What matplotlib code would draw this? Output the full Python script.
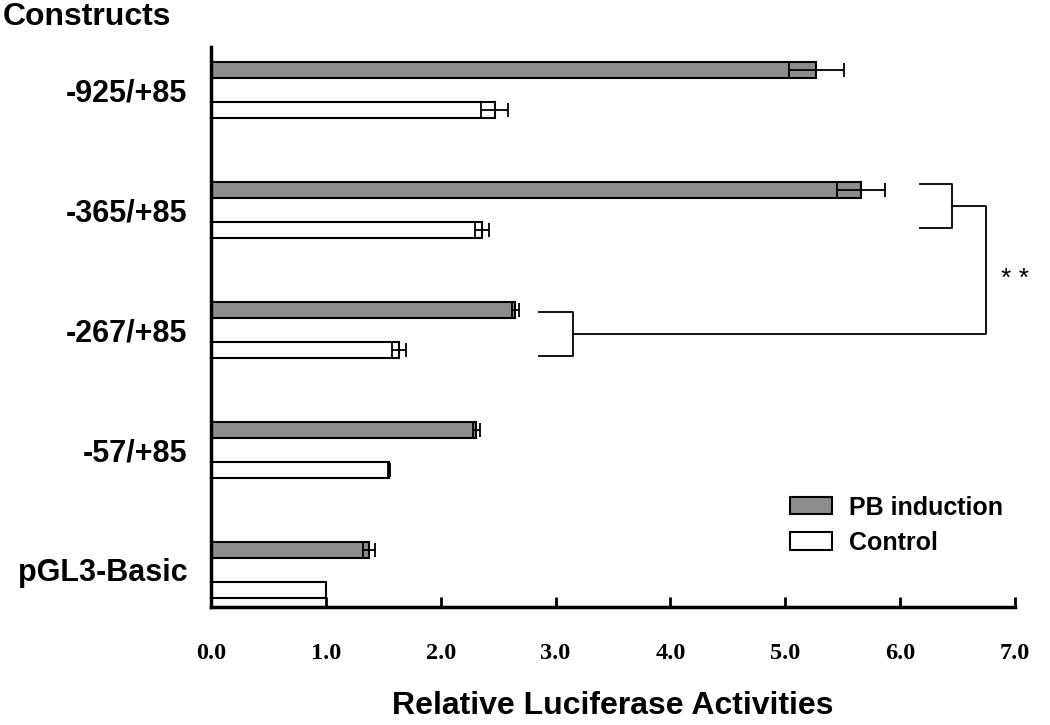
import numpy as np
import matplotlib
matplotlib.use('Agg')
import matplotlib.pyplot as plt

constructs = ['-925/+85', '-365/+85', '-267/+85', '-57/+85', 'pGL3-Basic']
pb_vals = [5.27, 5.66, 2.65, 2.31, 1.375]
pb_err = [0.24, 0.21, 0.03, 0.03, 0.05]
ctrl_vals = [2.47, 2.36, 1.64, 1.55, 1.0]
ctrl_err = [0.12, 0.06, 0.06, 0.01, 0.0]
xticks = [0, 1, 2, 3, 4, 5, 6, 7]

sans = 'Liberation Sans'
serif = 'Liberation Serif'

fig = plt.figure(figsize=(10.5, 7.25), dpi=100)
ax = fig.add_axes([211/1050, 1-607/725, 804/1050, 560/725])

base = np.arange(len(constructs))[::-1] * 3.0
y_pb = base + 1.425
y_ctrl = base + 0.425
h = 0.4

ekw = dict(elinewidth=1.3, capthick=1.3, ecolor='black')
b1 = ax.barh(y_pb, pb_vals, height=h, color='#8c8c8c', edgecolor='black',
             linewidth=1.5, xerr=pb_err, capsize=5, error_kw=ekw, label='PB induction')
b2 = ax.barh(y_ctrl, ctrl_vals, height=h, color='white', edgecolor='black',
             linewidth=1.5, xerr=ctrl_err, capsize=5, error_kw=ekw, label='Control')

ax.set_xlim(0, 7)
ax.set_ylim(0, 14)
for s in ['top', 'right']:
    ax.spines[s].set_visible(False)
for s in ['left', 'bottom']:
    ax.spines[s].set_linewidth(2.5)

ax.set_xticks(xticks)
ax.set_xticklabels(['%.1f' % t for t in xticks], fontfamily=serif,
                   fontweight='bold', fontsize=17.5)
ax.tick_params(axis='x', direction='in', length=7, width=2, pad=26)
ax.set_yticks((y_pb + y_ctrl) / 2)
ax.set_yticklabels(constructs, fontfamily=sans, fontweight='bold', fontsize=22)
ax.tick_params(axis='y', length=0, pad=17)

ax.set_xlabel('Relative Luciferase Activities', fontfamily=sans,
              fontweight='bold', fontsize=23, labelpad=19)
fig.text(0.003, 1-17/725, 'Constructs', fontfamily=sans, fontweight='bold',
         fontsize=23, ha='left', va='center')

# significance brackets
lw = 1.3
i1, i2 = 1, 2
ya, yb = y_pb[i1] + 0.15, y_ctrl[i1] + 0.05
x0, x1, xr = 6.17, 6.45, 6.745
ax.plot([x0, x1, x1, x0], [ya, ya, yb, yb], color='black', lw=lw, clip_on=False)
ym1 = (ya + yb) / 2
ya2, yb2 = y_pb[i2] - 0.05, y_ctrl[i2] - 0.15
x2, x3 = 2.86, 3.15
ax.plot([x2, x3, x3, x2], [ya2, ya2, yb2, yb2], color='black', lw=lw, clip_on=False)
ym2 = (ya2 + yb2) / 2
ax.plot([x1, xr, xr, x3], [ym1, ym1, ym2, ym2], color='black', lw=lw, clip_on=False)
ax.text(7.0, 8.2, '* *', fontsize=19, fontfamily=sans, ha='center', va='center')

ax.legend(handles=[b1, b2], loc='upper left', bbox_to_anchor=(0.72, 0.199),
          frameon=False, prop={'family': sans, 'weight': 'bold', 'size': 18},
          handlelength=1.7, handleheight=0.68, handletextpad=0.65,
          labelspacing=0.45, borderpad=0, borderaxespad=0)

fig.savefig('out.png', dpi=100)
